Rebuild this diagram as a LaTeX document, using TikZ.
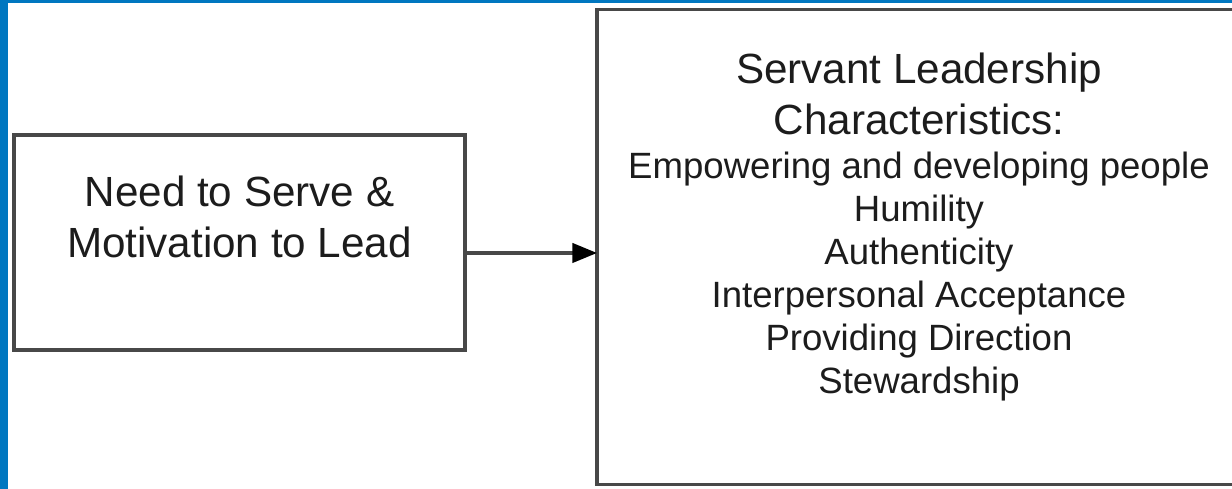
\documentclass[tikz,border=0pt]{standalone}
\usepackage{fontspec}
\setmainfont{Liberation Sans}
\usetikzlibrary{arrows.meta, positioning}
\definecolor{frameblue}{RGB}{0,119,192}
\definecolor{linegray}{RGB}{72,72,72}
\definecolor{inkgray}{RGB}{28,28,28}

\begin{document}
\begin{tikzpicture}[
    x = 0.01cm, y = -0.01cm,
    box/.style = {rectangle, draw=linegray, line width=1pt,
    outer sep=0pt, inner sep=0pt},
    lbl/.style = {align=center, inner sep=0pt, text=inkgray},
    big/.style = {font=\fontsize{12}{14.6}\selectfont},
    small/.style = {font=\fontsize{10.4}{12.2}\selectfont},
    arr/.style = {draw=linegray, line width=0.9pt,
    -{Triangle[length=7pt, width=5.5pt, color=black]}}
    ]
    %
    \useasboundingbox (0,0) rectangle (1232,489);
    \clip (0,0) rectangle (1232,489);
    \node (need) [box, minimum width=4.51cm, minimum height=2.15cm] at (239.5,242.5) {};
    \node (needtxt) [lbl, big] at (239.5,217) {Need to Serve \&\\Motivation to Lead};
    \node (lead) [box, anchor=north west, minimum width=7cm, minimum height=4.745cm] at (597,9.5) {};
    \node (title) [lbl, big, anchor=north] at (919,52) {Servant Leadership\\Characteristics:};
    \node (traits) [lbl, small, below=0.16cm of title] {Empowering and developing people\\Humility\\Authenticity\\Interpersonal Acceptance\\Providing Direction\\Stewardship};
    \draw[arr] (need.east |- 0,253) -- (lead.west |- 0,253);
    % frame
    \fill[frameblue] (0,0) rectangle (8.5,489);
    \fill[frameblue] (0,0) rectangle (1232,3.5);
\end{tikzpicture}
\end{document}
